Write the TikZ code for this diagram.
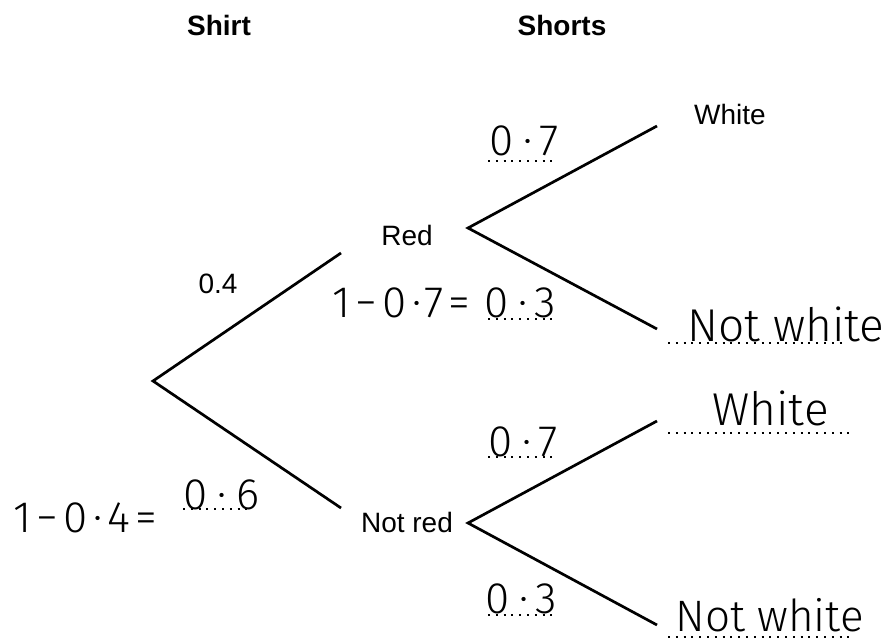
\documentclass[tikz,border=0pt]{standalone}
\usepackage{fontspec}
\setmainfont{Liberation Sans}
\newfontfamily\handfont{Fira Sans Light}
\newfontfamily\handnumfont[LetterSpace=22]{Fira Sans Light}
\newfontfamily\handcalcfont[LetterSpace=12]{Fira Sans Light}
\tikzset{
  printed/.style={font=\fontsize{14}{16}\selectfont},
  heading/.style={font=\fontsize{14}{16}\selectfont\bfseries},
  handwritten/.style={font=\handfont\fontsize{23}{25}\selectfont,anchor=base west,inner sep=0pt},
  handnum/.style={handwritten,font=\handnumfont\fontsize{22}{24}\selectfont},
  handcalc/.style={handwritten,font=\handcalcfont\fontsize{22}{24}\selectfont},
  answerline/.style={line width=1pt,dash pattern=on 1pt off 2.9pt},
  branch/.style={line width=1.35pt}
}
\begin{document}
\begin{tikzpicture}[x=0.5pt,y=-0.5pt]
  \useasboundingbox (0,0) rectangle (892,640);
  % headings
  \node[heading] (shirt) at (219,25) {Shirt};
  \node[heading] (shorts) at (562,25) {Shorts};
  % first stage
  \coordinate (root) at (153,381);
  \coordinate (redin) at (341,253);
  \coordinate (notredin) at (341,508);
  \node[printed] (red) at (407,235) {Red};
  \node[printed] (notred) at (407,522) {Not red};
  \node[printed] (pred) at (218,284) {0.4};
  \draw[branch] (redin) -- (root) -- (notredin);
  % second stage
  \coordinate (redout) at (468,228);
  \coordinate (notredout) at (468,523);
  \coordinate (whiteA) at (657,126);
  \coordinate (notwhiteA) at (657,329);
  \coordinate (whiteB) at (657,421);
  \coordinate (notwhiteB) at (657,625);
  \draw[branch] (whiteA) -- (redout) -- (notwhiteA);
  \draw[branch] (whiteB) -- (notredout) -- (notwhiteB);
  \node[printed] (whiteAlabel) at (730,114) {White};
  % answers
  \node[handnum] (pwhiteA) at (489,156) {0·7};
  \node[handcalc] (calcA) at (332,318) {1−0·7=};
  \node[handnum] (pnotwhiteA) at (484,318) {0·3};
  \node[handwritten] (notwhiteAlabel) at (687,342) {Not white};
  \node[handwritten] (whiteBlabel) at (712,425) {White};
  \node[handnum] (pwhiteB) at (488,456) {0·7};
  \node[handcalc] (calcB) at (13,532) {1−0·4=};
  \node[handnum] (pnotred) at (183,509) {0·6};
  \node[handnum] (pnotwhiteB) at (485,613) {0·3};
  \node[handwritten] (notwhiteBlabel) at (675,631) {\fontsize{22}{24}\selectfont Not white};
  \foreach \xa/\xb/\y in {488/557/161,488/557/319,668/843/343,668/850/433,
    488/555/457,183/253/509,488/557/615,668/850/637}{
    \draw[answerline] (\xa,\y) -- (\xb,\y);
  }
\end{tikzpicture}
\end{document}
